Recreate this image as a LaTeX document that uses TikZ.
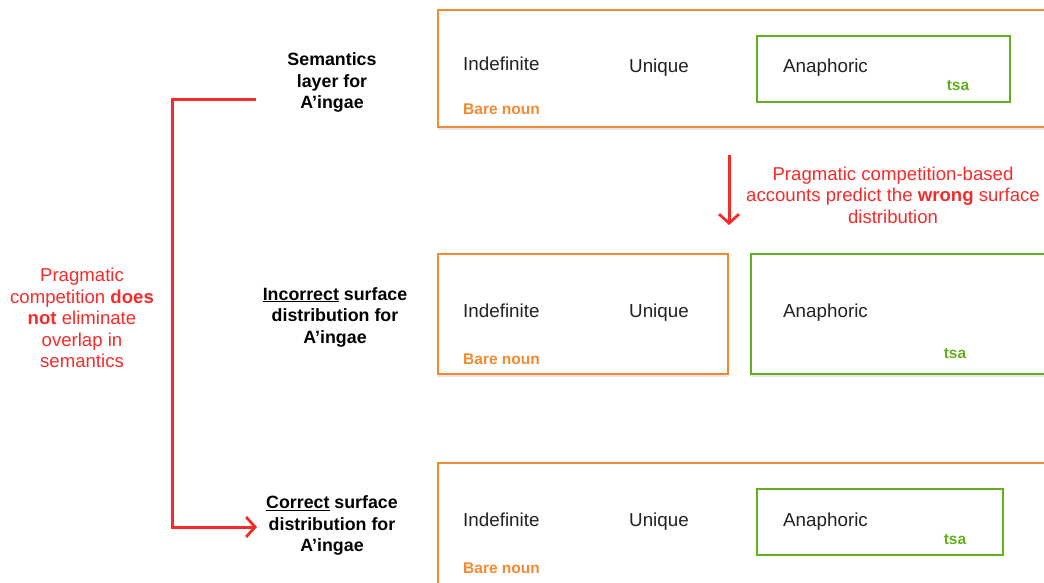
\documentclass[tikz,border=0pt]{standalone}
\usepackage{fontspec}
\setmainfont{Liberation Sans}
\usetikzlibrary{shadows,arrows.meta}
\definecolor{boxorange}{HTML}{F4892F}
\definecolor{boxgreen}{HTML}{62AE1F}
\definecolor{notered}{HTML}{F52B2B}
\definecolor{wordgray}{HTML}{222222}
\tikzset{
  softshadow/.style={drop shadow={opacity=0.2, shadow xshift=0pt, shadow yshift=-2.5pt}},
  orangebox/.style={draw=boxorange, line width=2pt, fill=white, inner sep=0pt, outer sep=0pt, softshadow},
  greenbox/.style={draw=boxgreen, line width=2pt, fill=white, inner sep=0pt, outer sep=0pt},
  word/.style={text=wordgray, font=\fontsize{18.8}{22}\selectfont, inner sep=0pt},
  barenoun/.style={text=boxorange, font=\bfseries\fontsize{15.5}{18}\selectfont, inner sep=0pt},
  tsalabel/.style={text=boxgreen, font=\bfseries\fontsize{15.5}{18}\selectfont, inner sep=0pt},
  rowlabel/.style={align=center, font=\bfseries\fontsize{17.8}{21.5}\selectfont, inner sep=0pt},
  remark/.style={align=center, text=notered, font=\fontsize{18.6}{21.5}\selectfont, inner sep=0pt},
  redline/.style={draw=notered, line width=3pt},
  redtip/.style={-{Straight Barb[length=9pt,width=20pt,line width=2.8pt]}}
}
\begin{document}
\begin{tikzpicture}[x=1pt,y=-1pt]
\useasboundingbox (0,0) rectangle (1044,582);
\clip (0,0) rectangle (1044,582);

% ---- row 1: semantics layer ----
\node[orangebox, anchor=north west, minimum width=700, minimum height=117] (semrow) at (438,10) {};
\node[greenbox, anchor=north west, minimum width=253, minimum height=66] (semana) at (757,36) {};
\node[word, anchor=west] (semindef) at (463,64) {Indefinite};
\node[word] (semuniq) at (659,68) {Unique};
\node[word, anchor=west] (semanatext) at (783,68) {Anaphoric};
\node[tsalabel] (semtsa) at (958,86) {tsa};
\node[barenoun, anchor=west] (sembare) at (463,109) {Bare noun};

% ---- row 2: incorrect surface distribution ----
\node[orangebox, anchor=north west, minimum width=290, minimum height=120] (incrow) at (438,254) {};
\node[greenbox, softshadow, anchor=north west, minimum width=320, minimum height=120] (incana) at (751,254) {};
\node[word, anchor=west] (incindef) at (463,311) {Indefinite};
\node[word] (incuniq) at (659,312.5) {Unique};
\node[word, anchor=west] (incanatext) at (783,312.5) {Anaphoric};
\node[tsalabel] (inctsa) at (955,354) {tsa};
\node[barenoun, anchor=west] (incbare) at (463,359) {Bare noun};

% ---- row 3: correct surface distribution ----
\node[orangebox, anchor=north west, minimum width=700, minimum height=160] (corrow) at (438,463) {};
\node[greenbox, anchor=north west, minimum width=246, minimum height=66] (corana) at (757,489) {};
\node[word, anchor=west] (corindef) at (463,520) {Indefinite};
\node[word] (coruniq) at (659,521.5) {Unique};
\node[word, anchor=west] (coranatext) at (783,521.5) {Anaphoric};
\node[tsalabel] (cortsa) at (955,540) {tsa};
\node[barenoun, anchor=west] (corbare) at (463,568) {Bare noun};

% ---- row labels ----
\node[rowlabel] (semlabel) at (332,82.5) {Semantics\\layer for\\A’ingae};
\node[rowlabel] (inclabel) at (335,317) {\underline{Incorrect} surface\\distribution for\\A’ingae};
\node[rowlabel] (corlabel) at (332,525.5) {\underline{Correct} surface\\distribution for\\A’ingae};

% ---- remarks ----
\node[remark] (leftnote) at (82,318) {Pragmatic\\competition \textbf{does}\\\textbf{not} eliminate\\overlap in\\semantics};
\node[remark] (rightnote) at (893,195) {Pragmatic competition-based\\accounts predict the \textbf{wrong} surface\\distribution};

% ---- connectors ----
\coordinate (bracketstart) at (256,99);
\coordinate (bracketend) at (257,527);
\draw[redline, redtip] (bracketstart) -- (172,99) -- (172,527) -- (bracketend);
\coordinate (predtop) at (729,155);
\coordinate (predbottom) at (729,225);
\draw[redline, redtip] (predtop) -- (predbottom);
\end{tikzpicture}
\end{document}
